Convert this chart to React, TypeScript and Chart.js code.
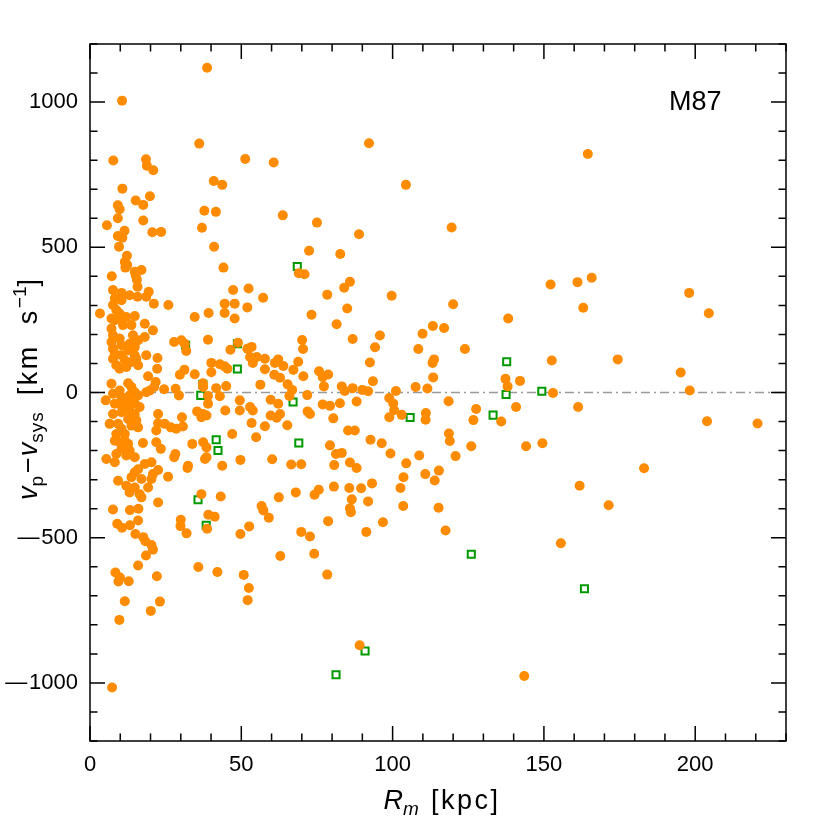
import { useEffect, useRef } from 'react';
import { Chart, registerables } from 'chart.js';

Chart.register(...registerables);

// ---------- data ----------
const xRange = [0, 230];
const yRange = [-1200, 1200];
const xTickValues = [0, 50, 100, 150, 200];
const yTickValues = [-1000, -500, 0, 500, 1000];
const xTickStep = 50;
const yTickStep = 500;
const xMinorStep = 10;
const yMinorStep = 100;
const galaxyLabel = 'M87';
const galaxyLabelAt = [200, 1000];
const zeroLineV = 0;

// planetary nebulae (orange filled circles): [R_m (kpc), v_p - v_sys (km/s)]
const orangePoints: [number, number][] = [
  [38.7,1118],[10.6,1005],[36.1,857],[7.7,799],[18.5,803],[18.8,781],[20.9,765],[51.3,804],[40.9,728],[43.7,715],
  [10.7,702],[19.8,676],[15.1,661],[17.6,646],[9.2,645],[9.8,631],[37.8,626],[41.6,622],[9.2,600],[17.6,592],
  [5.6,576],[11.4,557],[20.6,552],[23.5,553],[37.0,567],[9.2,539],[10.7,533],[9.6,502],[41.0,502],[12.2,471],
  [11.5,449],[12.3,439],[11.7,430],[17.0,422],[44.1,430],[14.8,416],[7.2,400],[15.1,403],
  [92.2,858],[60.7,792],[104.4,715],[63.7,610],[75.0,585],[88.9,545],[72.4,488],[82.7,477],[69.0,411],[70.9,407],
  [164.5,821],[119.5,568],[165.8,395],
  [198.0,343],[204.5,273],[174.4,114],[195.2,69],[198.2,7],[203.9,-99],[220.6,-107],[183.1,-261],[171.4,-388],
  [152.2,372],[161.1,380],[120.0,304],[163.0,292],[138.2,255],[113.3,229],[117.0,222],[123.9,150],[113.7,114],[113.2,102],
  [152.6,110],[113.4,52],[137.3,47],[142.1,40],[138.0,21],[153.0,-2],[118.5,-30],[140.8,-50],[161.3,-50],[127.6,-57],
  [126.7,-95],[135.9,-100],[118.6,-141],[118.9,-167],[126.0,-185],[144.1,-185],[149.5,-175],[120.8,-219],[115.3,-269],[113.9,-303],
  [161.8,-321],[115.2,-397],
  [117.5,-475],[155.6,-519],[143.5,-976],
  [57.3,-406],[59.1,-431],[78.7,-443],[86.2,-412],[96.8,-447],[69.8,-480],[72.7,-496],[91.3,-480],[62.9,-563],[74.1,-555],
  [78.4,-627],[89.1,-870],[52.5,-673],[52.1,-715],
  [7.6,-403],[13.2,-405],[16.0,-400],[9.0,-452],[10.6,-466],[13.2,-457],[15.9,-441],[15.0,-487],[17.6,-498],[18.3,-512],
  [20.3,-525],[20.8,-541],[18.5,-561],[15.9,-596],[8.4,-620],[9.9,-637],[9.4,-651],[12.8,-650],[22.1,-633],[11.5,-719],
  [23.1,-720],[20.1,-752],[9.7,-783],[7.3,-1016],[30.0,-438],[29.9,-460],[31.9,-485],[39.1,-421],[41.2,-428],[38.7,-469],
  [49.7,-487],[52.6,-461],[35.8,-601],[42.1,-618],[50.8,-628],
  [57.2,326],[52.4,358],[52.0,293],[78.4,337],[84.0,361],[85.9,381],[99.7,333],[85.0,289],[73.2,268],[81.5,235],
  [86.8,184],[95.8,196],[94.2,156],[70.1,181],[70.4,150],[109.9,202],[108.5,150],[53.4,157],[52.9,122],[55.1,122],
  [57.8,116],[53.8,102],[62.2,114],[61.1,102],[63.9,91],[68.8,106],[67.2,78],[57.8,80],[60.9,61],[62.8,51],
  [70.5,56],[92.5,103],[75.7,73],[78.7,62],[76.9,53],[77.3,21],[56.3,27],[65.3,28],[66.8,9],[65.9,-12],
  [71.8,-9],[83.2,21],[84.2,5],[86.8,15],[90.0,9],[91.9,4],[93.5,39],[101.1,5],[107.6,19],[111.5,14],
  [62.2,-39],[59.7,-25],[52.9,-50],[53.8,-62],[76.9,-41],[79.3,-46],[82.6,-37],[88.1,-31],[71.9,-65],[72.7,-74],
  [80.4,-89],[98.9,-19],[100.2,-38],[100.5,-61],[98.9,-85],[103.0,-77],[111.0,-71],[110.9,-94],[59.7,-79],[61.7,-87],
  [62.8,-74],[53.4,-105],[57.8,-116],[65.2,-113],[54.9,-154],[85.3,-131],[87.5,-131],[79.3,-182],[81.3,-212],[83.2,-208],
  [92.7,-163],[96.4,-175],[99.3,-210],[108.8,-217],[60.2,-230],[66.5,-248],[69.8,-247],[80.7,-250],[85.9,-241],[88.1,-260],
  [104.5,-244],[110.8,-281],[103.6,-292],[102.6,-329],[93.2,-313],[80.6,-324],[85.7,-329],[89.6,-330],[86.5,-368],[91.9,-375],
  [74.2,-352],[75.6,-335],[68.0,-344],[62.4,-361],[56.7,-391],[85.9,-399],[103.5,-391],
  [15.5,388],[15.7,364],[7.6,353],[10.4,343],[13.1,335],[8.2,324],[10.4,318],[15.7,330],[18.6,330],[19.4,347],
  [21.1,306],[25.9,301],[3.3,272],[7.6,301],[8.7,284],[9.8,272],[10.4,260],[7.1,255],[8.2,249],[12.0,260],
  [14.8,263],[10.9,232],[13.7,232],[18.1,237],[20.8,214],[18.1,191],[7.1,220],[7.6,197],[9.8,186],[7.1,174],
  [10.4,163],[13.1,168],[14.8,157],[15.9,180],[14.2,197],[7.6,151],[8.2,134],[10.4,128],[7.6,116],[11.5,111],
  [8.7,94],[9.8,82],[12.0,88],[13.7,105],[15.3,116],[15.9,94],[14.8,128],[12.6,145],[18.6,128],[22.3,119],
  [22.2,82],[19.2,56],[21.7,36],[21.2,19],[19.8,7],[18.6,1],[7.1,30],[9.8,7],[7.6,-4],[12.6,32],
  [13.7,19],[14.8,1],[15.9,-10],[13.1,-10],[10.4,-16],[5.2,-27],[8.2,-39],[10.4,-45],[12.6,-39],[14.8,-37],
  [7.6,-74],[10.4,-68],[13.1,-62],[14.8,-74],[16.4,-50],[6.5,-108],[9.3,-108],[10.4,-125],[12.6,-91],[13.7,-114],
  [15.9,-120],[15.3,-96],[11.5,-143],[8.7,-143],[8.2,-166],[9.8,-171],[11.5,-166],[12.6,-177],[10.4,-194],[13.1,-200],
  [12.0,-217],[14.8,-223],[8.7,-212],[17.5,-174],[5.4,-229],[8.2,-240],[15.9,-264],[18.1,-246],[20.3,-240],[14.8,-275],
  [13.7,-292],[17.0,-298],[20.8,-281],[20.3,-298],[22.5,-267],[25.8,-290],[9.3,-304],[12.0,-321],[14.8,-327],[16.4,-350],
  [13.1,-344],[19.2,-327],[22.5,-379],[17.0,-361],
  [22.5,-74],[24.5,11],[22.5,-106],[24.7,-108],[26.7,-120],[28.5,-125],[30.7,-117],[21.9,-131],[30.4,-85],[21.9,-171],
  [23.4,-194],[27.8,-223],[28.2,-212],[27.8,174],[30.2,180],[31.8,143],[31.3,168],[29.7,61],[31.2,78],[28.3,13],
  [29.4,-10],[34.6,63],[34.6,260],[39.2,274],[39.0,182],[44.5,306],[47.3,353],[44.5,274],[47.8,255],[47.8,306],
  [46.4,147],[48.9,171],[52.0,151],[40.1,102],[42.9,97],[44.5,90],[40.1,70],[45.4,82],[37.3,32],[37.4,19],
  [41.7,15],[45.0,22],[39.0,-12],[42.9,-13],[39.0,-39],[35.4,-65],[37.4,-74],[38.5,-79],[36.8,-85],[44.7,-62],
  [49.5,-27],[49.5,-62],[47.0,-143],[33.8,-177],[37.4,-171],[38.5,-189],[38.0,-229],[38.5,-223],[32.4,-252],[32.2,-260],
  [43.7,-252],[49.7,-232],[36.8,-350],[43.2,-358],
];

// green open squares
const greenPoints: [number, number][] = [
  [68.5,434],[31.6,163],[48.7,168],[48.7,81],[37.3,28],[36.6,-10],[41.7,-163],[42.3,-200],[35.7,-369],[38.4,-457],
  [67.1,-33],[69.0,-174],[105.8,-86],[137.7,106],[137.5,-7],[149.3,4],[133.2,-78],[126.0,-557],[163.4,-676],[90.9,-890],
  [81.3,-972],
];

const FONT = '"Liberation Sans", Arial, Helvetica, sans-serif';

type Run = { t: string; italic?: boolean; size: number; dy?: number; gap?: number; ls?: number };

function drawRuns(ctx: CanvasRenderingContext2D, runs: Run[], cx: number, baseline: number) {
  const c = ctx as any;
  const widths = runs.map((r) => {
    ctx.font = `${r.italic ? 'italic ' : ''}${r.size}px ${FONT}`;
    c.letterSpacing = `${r.ls || 0}px`;
    return ctx.measureText(r.t).width + (r.gap || 0);
  });
  const total = widths.reduce((a, b) => a + b, 0);
  let x = cx - total / 2;
  runs.forEach((r, i) => {
    ctx.font = `${r.italic ? 'italic ' : ''}${r.size}px ${FONT}`;
    c.letterSpacing = `${r.ls || 0}px`;
    ctx.fillText(r.t, x, baseline + (r.dy || 0));
    x += widths[i];
  });
  c.letterSpacing = '0px';
}

export default function App() {
  const ref = useRef<HTMLCanvasElement>(null);

  useEffect(() => {
    document.body.style.margin = '0';
    const canvas = ref.current!;

    const decor = {
      id: 'decor',
      beforeDatasetsDraw(chart: any) {
        const { ctx, chartArea, scales } = chart;
        const y = scales.y.getPixelForValue(zeroLineV);
        ctx.save();
        ctx.strokeStyle = '#9a9a9a';
        ctx.lineWidth = 1.5;
        ctx.setLineDash([9, 4, 2, 4]);
        ctx.beginPath();
        ctx.moveTo(chartArea.left, y);
        ctx.lineTo(chartArea.right, y);
        ctx.stroke();
        ctx.restore();
      },
      afterDraw(chart: any) {
        const { ctx, chartArea, scales } = chart;
        const { left, right, top, bottom } = chartArea;
        ctx.save();
        ctx.strokeStyle = '#000';
        ctx.lineWidth = 1.5;
        ctx.strokeRect(left, top, right - left, bottom - top);
        const major = 15;
        const minor = 7.5;
        ctx.beginPath();
        for (let v = xRange[0]; v <= xRange[1] + 1e-9; v += xMinorStep) {
          const px = scales.x.getPixelForValue(v);
          const len = v % xTickStep === 0 ? major : minor;
          ctx.moveTo(px, bottom);
          ctx.lineTo(px, bottom - len);
          ctx.moveTo(px, top);
          ctx.lineTo(px, top + len);
        }
        for (let v = yRange[0]; v <= yRange[1] + 1e-9; v += yMinorStep) {
          const py = scales.y.getPixelForValue(v);
          const len = v % yTickStep === 0 ? major : minor;
          ctx.moveTo(left, py);
          ctx.lineTo(left + len, py);
          ctx.moveTo(right, py);
          ctx.lineTo(right - len, py);
        }
        ctx.stroke();

        ctx.fillStyle = '#000';
        ctx.textBaseline = 'middle';
        ctx.textAlign = 'center';
        ctx.font = `27px ${FONT}`;
        ctx.fillText(galaxyLabel, scales.x.getPixelForValue(galaxyLabelAt[0]), scales.y.getPixelForValue(galaxyLabelAt[1]));

        ctx.textAlign = 'left';
        ctx.textBaseline = 'alphabetic';
        drawRuns(
          ctx,
          [
            { t: 'R', italic: true, size: 27 },
            { t: 'm', italic: true, size: 19, dy: 6, gap: 12 },
            { t: '[kpc]', size: 27, ls: 2.5 },
          ],
          (left + right) / 2 + 4,
          809
        );

        ctx.translate(37, (top + bottom) / 2 - 3);
        ctx.rotate(-Math.PI / 2);
        drawRuns(
          ctx,
          [
            { t: 'v', italic: true, size: 27 },
            { t: 'p', size: 19, dy: 6, gap: 3 },
            { t: '\u2212', size: 27, gap: 1 },
            { t: 'v', italic: true, size: 27 },
            { t: 'sys', size: 19, dy: 6, gap: 16, ls: 1 },
            { t: '[km  s', size: 27, ls: 2.5 },
            { t: '\u22121', size: 19, dy: -11 },
            { t: ']', size: 27 },
          ],
          0,
          0
        );
        ctx.restore();
      },
    };

    const chart = new Chart(canvas, {
      type: 'scatter',
      data: {
        datasets: [
          {
            label: 'PNe',
            data: orangePoints.map(([x, y]) => ({ x, y })),
            backgroundColor: '#ff8c00',
            borderColor: '#ff8c00',
            borderWidth: 0,
            pointRadius: 5,
            pointHoverRadius: 5,
          },
          {
            label: 'GCs',
            data: greenPoints.map(([x, y]) => ({ x, y })),
            pointStyle: 'rect',
            backgroundColor: '#ffffff',
            borderColor: '#009a00',
            borderWidth: 2,
            pointRadius: 5,
            pointHoverRadius: 5,
          },
        ],
      },
      options: {
        responsive: false,
        animation: false,
        events: [],
        layout: { padding: { top: 44, right: 44, left: 0, bottom: 0 } },
        plugins: { legend: { display: false }, tooltip: { enabled: false } },
        scales: {
          x: {
            type: 'linear',
            min: xRange[0],
            max: xRange[1],
            afterFit: (s: any) => {
              s.height = 89;
            },
            afterBuildTicks: (s: any) => {
              s.ticks = xTickValues.map((value) => ({ value }));
            },
            grid: { display: false, drawTicks: false },
            border: { display: false },
            ticks: {
              padding: 11,
              color: '#000',
              font: { family: FONT, size: 22 },
              maxRotation: 0,
              autoSkip: false,
              callback: (v: any) => String(v),
            },
          },
          y: {
            type: 'linear',
            min: yRange[0],
            max: yRange[1],
            afterFit: (s: any) => {
              s.width = 90;
            },
            afterBuildTicks: (s: any) => {
              s.ticks = yTickValues.map((value) => ({ value }));
            },
            grid: { display: false, drawTicks: false },
            border: { display: false },
            ticks: {
              padding: 12,
              color: '#000',
              font: { family: FONT, size: 22 },
              autoSkip: false,
              callback: (v: any) => String(v).replace('-', '\u2014\u200a'),
            },
          },
        },
      },
      plugins: [decor],
    } as any);

    return () => chart.destroy();
  }, []);

  return (
    <div style={{ position: 'fixed', left: 0, top: 0, width: 830, height: 830, background: '#fff' }}>
      <canvas ref={ref} width={830} height={830} style={{ display: 'block' }} />
    </div>
  );
}
